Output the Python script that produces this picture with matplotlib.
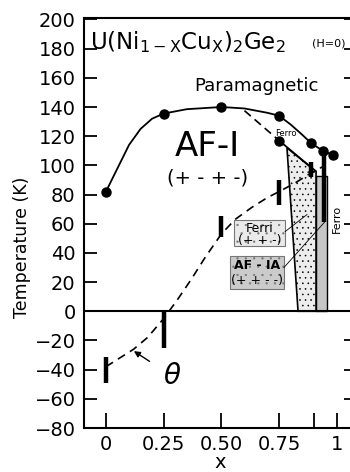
import matplotlib
matplotlib.use("Agg")
import matplotlib.pyplot as plt
from matplotlib.patches import Rectangle

plt.rcParams['font.family'] = ['DejaVu Sans']
plt.rcParams['mathtext.fontset'] = 'dejavusans'
plt.rcParams['hatch.color'] = '#a8a8a8'
plt.rcParams['hatch.linewidth'] = 0.4

# Neel / Curie points (markers) on the paramagnetic boundary
x_para = [0, 0.25, 0.5, 0.75, 0.89, 0.94, 0.985]
T_para = [82, 135, 140, 134, 115, 110, 107]
# points
x_para_line = [0, 0.05, 0.1, 0.15, 0.2, 0.25, 0.35, 0.5, 0.6, 0.7, 0.75, 0.8, 0.85, 0.89, 0.94, 0.985, 1.0]
T_para_line = [82, 98, 114, 125, 132, 135.5, 138.5, 140, 139, 136, 134, 128, 121, 115, 110, 107, 105]

# ferro transition (lower branch)
x_ferro = [0.75]
T_ferro = [117]
x_ferro_line = [0.75, 0.885]
T_ferro_line = [117, 99]
x_ferro_dash = [0.6, 0.75]
T_ferro_dash = [137.5, 117]

# paramagnetic Curie temperature theta
x_theta = [0, 0.25, 0.5, 0.75, 0.89]
theta_lo = [-49, -25, 51, 73, 92]
theta_hi = [-31, 0, 65, 90, 102]
x_theta_line = [0, 0.06, 0.12, 0.18, 0.25, 0.31, 0.37, 0.43, 0.5, 0.56, 0.63, 0.7, 0.75, 0.82, 0.89, 0.95]
T_theta_line = [-38, -32, -26, -18, -5, 8, 22, 37, 53, 63, 71, 78, 82, 88, 95, 100]

# phase regions
ferri_x = [0.784, 0.91, 0.91, 0.832]
ferri_T = [112, 96, 0, 0]
afia_x = [0.91, 0.958, 0.958, 0.91]
afia_T = [93, 93, 0, 0]
ferro_bar_x = 0.945
ferro_bar_T = [61, 108]

xticks = [0, 0.25, 0.5, 0.75, 0.9, 1]
xticklabels = ['0', '0.25', '0.50', '0.75', '', '1']
yticks = list(range(-80, 201, 20))

fig = plt.figure(figsize=(3.5, 4.72), dpi=100)
ax = fig.add_axes([84 / 350, 1 - 428 / 472, (356 - 84) / 350, (428 - 18) / 472])
ax.set_xlim(-0.095, 1.083)
ax.set_ylim(-80, 201)

# shaded regions
ax.fill(ferri_x, ferri_T, facecolor='#ededed', edgecolor='black', lw=1.2, hatch='...', zorder=1)
ax.fill(afia_x, afia_T, facecolor='#c6c6c6', edgecolor='black', lw=1.0, zorder=1)

ax.axhline(0, color='black', lw=1.5, zorder=2)

ax.plot(x_para_line, T_para_line, color='black', lw=1.3, zorder=3)
ax.plot(x_para, T_para, 'o', color='black', ms=6.5, zorder=4)
ax.plot(x_ferro_line, T_ferro_line, color='black', lw=1.3, zorder=3)
ax.plot(x_ferro_dash, T_ferro_dash, color='black', lw=1.2, ls=(0, (5, 3)), zorder=3)
ax.plot(x_ferro, T_ferro, 'o', color='black', ms=6.5, zorder=4)

ax.plot(x_theta_line, T_theta_line, color='black', lw=1.2, ls=(0, (5, 3.5)), zorder=3)
ax.vlines(x_theta, theta_lo, theta_hi, color='black', lw=3.2, zorder=4)
ax.vlines(ferro_bar_x, ferro_bar_T[0], ferro_bar_T[1], color='black', lw=3.2, zorder=4)

# labels
ax.text(0.022, 0.941, r'U(Ni$_{\mathrm{1-X}}$Cu$_{\mathrm{X}}$)$_{2}$Ge$_{2}$', transform=ax.transAxes,
        fontsize=16.5, va='center', ha='left')
ax.text(0.838, 0.937, '(H=0)', transform=ax.transAxes, fontsize=8, va='center', ha='left')
ax.text(0.65, 154.4, 'Paramagnetic', fontsize=13, ha='center', va='center')
ax.text(0.44, 113, 'AF-I', fontsize=24.5, ha='center', va='center')
ax.text(0.44, 91.5, '(+ - + -)', fontsize=14, ha='center', va='center')
ax.text(0.78, 122, 'Ferro', fontsize=6, ha='center', va='center')
ax.text(1.0, 63.5, 'Ferro', fontsize=8, ha='center', va='center', rotation=90)

# label boxes for the Ferri and AF-IA phases
ax.add_patch(Rectangle((0.555, 44.4), 0.221, 18.4, facecolor='#eaeaea', edgecolor='#777777',
                       lw=0.8, hatch='..', zorder=5))
ax.add_patch(Rectangle((0.537, 15), 0.234, 22.6, facecolor='#cbcbcb', edgecolor='#777777',
                       lw=0.8, hatch='..', zorder=5))
ax.text(0.665, 56.7, 'Ferri', fontsize=9, ha='center', va='center', zorder=6)
ax.text(0.665, 48.5, '(+ + -)', fontsize=9, ha='center', va='center', zorder=6)
ax.text(0.654, 31.4, 'AF - IA', fontsize=9, fontweight='bold', ha='center', va='center', zorder=6)
ax.text(0.654, 21.2, '(+ + - -)', fontsize=9, ha='center', va='center', zorder=6)
ax.plot([0.776, 0.871], [54.6, 66.3], color='black', lw=0.6, zorder=5)
ax.plot([0.771, 0.949], [30, 61.5], color='black', lw=0.6, zorder=5)

ax.annotate(r'$\theta$', xy=(0.121, -27.3), xytext=(0.286, -44.4), fontsize=20,
            ha='center', va='center',
            arrowprops=dict(arrowstyle='-|>', color='black', lw=1.0, shrinkA=9, shrinkB=0,
                            mutation_scale=9))

ax.set_xticks(xticks)
ax.set_xticklabels(xticklabels)
ax.set_yticks(yticks)
ax.tick_params(direction='in', width=1.3, labelsize=14, right=True)
ax.tick_params(axis='x', length=11, pad=5)
ax.tick_params(axis='y', length=9, pad=6)
for s in ax.spines.values():
    s.set_linewidth(1.5)

ax.set_ylabel('Temperature (K)', fontsize=12.5)
ax.yaxis.set_label_coords(-0.195, 0.44)
ax.text(0.5, -0.085, 'x', transform=ax.transAxes, fontsize=14, ha='center', va='center')

fig.savefig('out.png', dpi=100)
